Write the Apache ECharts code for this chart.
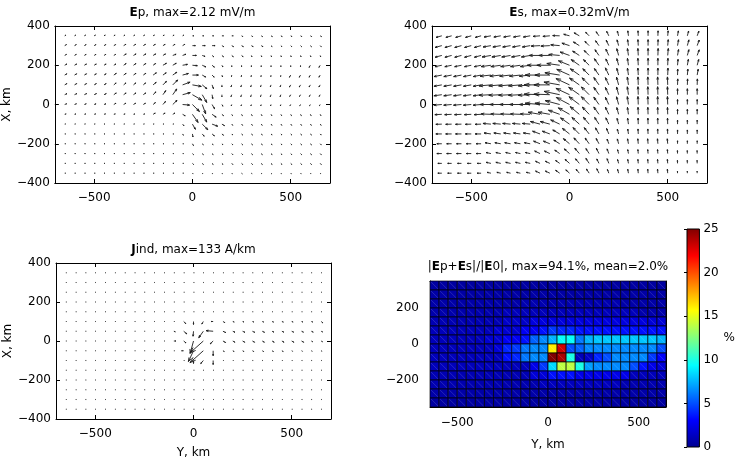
<!DOCTYPE html>
<html>
<head>
<meta charset="utf-8">
<title>Ep / Es / Jind</title>
<script src="https://cdn.jsdelivr.net/npm/echarts@6/dist/echarts.min.js"></script>
<style>
  html, body { margin: 0; padding: 0; background: #fff; }
  #chart { width: 737px; height: 460px; }
</style>
</head>
<body>
<div id="chart"></div>
<script>
// grid nodes (km): columns are Y, rows are X (top row first)
var gridY = [-650,-600,-550,-500,-450,-400,-350,-300,-250,-200,-150,-100,-50,0,50,100,150,200,250,300,350,400,450,500,550,600,650];
var gridX = [350,300,250,200,150,100,50,0,-50,-100,-150,-200,-250,-300,-350];

// Ep: magnitude (mV/m) and direction (deg, from +Y towards +X)
var epMag = [
  [0.29,0.29,0.29,0.29,0.29,0.29,0.29,0.29,0.29,0.29,0.29,0.29,0.29,0.29,0.29,0.29,0.29,0.29,0.29,0.29,0.29,0.29,0.29,0.29,0.29,0.29,0.29],
  [0.39,0.39,0.39,0.39,0.39,0.39,0.48,0.48,0.48,0.48,0.48,0.48,0.48,0.58,0.58,0.58,0.39,0.39,0.39,0.39,0.39,0.29,0.29,0.29,0.29,0.29,0.29],
  [0.39,0.39,0.39,0.39,0.39,0.39,0.58,0.58,0.58,0.58,0.58,0.68,0.68,0.77,0.58,0.39,0.39,0.39,0.39,0.29,0.29,0.29,0.29,0.29,0.29,0.29,0.29],
  [0.48,0.48,0.48,0.48,0.48,0.48,0.58,0.58,0.58,0.58,0.77,0.77,0.96,0.96,0.77,0.58,0.39,0.29,0.29,0.29,0.29,0.29,0.29,0.29,0.29,0.48,0.48],
  [0.48,0.48,0.48,0.48,0.48,0.58,0.58,0.58,0.58,0.77,0.77,0.96,1.16,1.16,0.77,0.58,0.39,0.29,0.29,0.29,0.29,0.29,0.29,0.48,0.48,0.48,0.48],
  [0.48,0.48,0.48,0.48,0.48,0.58,0.58,0.58,0.58,0.77,0.96,1.35,1.54,1.74,1.16,0.77,0.39,0.39,0.39,0.39,0.39,0.39,0.39,0.48,0.48,0.48,0.48],
  [0.48,0.48,0.48,0.48,0.48,0.58,0.58,0.58,0.58,0.77,0.96,1.35,1.54,2.12,1.74,0.77,0.39,0.39,0.39,0.39,0.39,0.39,0.39,0.39,0.39,0.39,0.39],
  [0.39,0.39,0.39,0.39,0.39,0.48,0.48,0.48,0.48,0.58,0.77,1.16,1.35,1.93,1.93,0.96,0.39,0.29,0.29,0.29,0.29,0.29,0.29,0.29,0.29,0.29,0.29],
  [0.29,0.29,0.29,0.29,0.29,0.29,0.29,0.29,0.29,0.48,0.48,0.48,0.58,1.93,1.74,0.96,0.39,0.29,0.29,0.29,0.29,0.29,0.29,0.29,0.29,0.29,0.29],
  [0.19,0.19,0.19,0.19,0.19,0.19,0.19,0.19,0.19,0.19,0.19,0.19,0.39,1.16,1.54,1.16,0.58,0.29,0.29,0.29,0.29,0.29,0.29,0.29,0.29,0.29,0.29],
  [0.19,0.19,0.19,0.19,0.19,0.19,0.19,0.19,0.19,0.19,0.19,0.19,0.29,0.58,0.58,0.58,0.39,0.29,0.29,0.29,0.29,0.29,0.29,0.29,0.29,0.29,0.29],
  [0.19,0.19,0.19,0.19,0.19,0.19,0.19,0.19,0.19,0.19,0.19,0.19,0.19,0.39,0.29,0.29,0.29,0.29,0.29,0.29,0.29,0.29,0.29,0.29,0.29,0.29,0.29],
  [0.19,0.19,0.19,0.19,0.19,0.19,0.19,0.19,0.19,0.19,0.19,0.19,0.19,0.29,0.29,0.29,0.29,0.29,0.29,0.29,0.29,0.29,0.29,0.29,0.29,0.29,0.29],
  [0.19,0.19,0.19,0.19,0.19,0.19,0.19,0.19,0.19,0.19,0.19,0.19,0.19,0.29,0.29,0.29,0.29,0.29,0.29,0.29,0.29,0.29,0.29,0.29,0.29,0.29,0.29],
  [0.19,0.19,0.19,0.19,0.19,0.19,0.19,0.19,0.19,0.19,0.19,0.19,0.19,0.19,0.19,0.19,0.19,0.19,0.19,0.19,0.19,0.19,0.19,0.19,0.19,0.19,0.19]
];
var epDir = [
  [30,30,30,30,30,30,30,30,30,30,30,30,30,0,0,0,0,0,-30,-30,-30,-30,-30,-30,-30,-30,-30],
  [30,30,30,30,30,30,30,30,30,30,30,30,30,0,0,0,-30,-30,-30,-30,-30,-45,-45,-45,-45,-45,-45],
  [30,30,30,30,30,30,30,30,30,30,30,20,20,0,-20,-40,-40,-40,-40,-70,-70,-70,-70,-70,-70,-70,-70],
  [30,30,30,30,30,30,35,35,35,35,30,30,10,-5,-25,-40,-60,-90,-90,-90,-90,-90,-90,-90,-90,240,240],
  [30,30,30,30,30,35,35,35,35,35,35,35,15,0,-30,-45,-70,260,260,260,260,260,260,240,240,240,240],
  [30,30,30,30,30,40,40,40,40,40,45,45,20,-10,-40,-70,-90,250,250,250,250,250,250,240,240,240,240],
  [25,25,25,25,25,35,35,35,35,45,55,55,15,-30,-60,-80,-90,250,250,250,250,250,250,240,240,240,240],
  [20,20,20,20,20,30,30,30,30,40,50,45,-5,-45,-70,-60,-60,250,250,250,250,250,250,240,240,240,240],
  [15,15,15,15,15,15,15,15,15,30,30,30,-30,-55,-60,-35,-40,-60,-60,-60,-60,-60,-60,-60,-60,-60,-60],
  [10,10,10,10,10,10,10,10,10,10,10,10,-50,-60,-45,-20,-30,-50,-50,-50,-50,-50,-50,-50,-50,-50,-50],
  [0,0,0,0,0,0,0,0,0,0,0,0,-60,-80,-50,-40,-40,-45,-45,-45,-45,-45,-45,-45,-45,-45,-45],
  [0,0,0,0,0,0,0,0,0,0,0,0,0,-60,-45,-45,-45,-45,-45,-45,-45,-45,-45,-45,-45,-45,-45],
  [0,0,0,0,0,0,0,0,0,0,0,0,0,-45,-45,-45,-45,-45,-45,-45,-45,-45,-45,-45,-45,-45,-45],
  [0,0,0,0,0,0,0,0,0,0,0,0,0,-45,-45,-45,-45,-45,-45,-45,-45,-45,-45,-45,-45,-45,-45],
  [0,0,0,0,0,0,0,0,0,0,0,0,0,-45,-45,-45,-45,-45,-45,-45,-45,-45,-45,-45,-45,-45,-45]
];

// Es: magnitude (mV/m) and direction (deg)
var esMag = [
  [0.12,0.12,0.12,0.12,0.12,0.14,0.14,0.14,0.14,0.14,0.14,0.14,0.14,0.12,0.12,0.10,0.10,0.10,0.10,0.10,0.10,0.10,0.10,0.10,0.10,0.10,0.10],
  [0.14,0.14,0.14,0.14,0.14,0.16,0.16,0.16,0.16,0.16,0.18,0.18,0.18,0.16,0.14,0.12,0.12,0.12,0.12,0.12,0.12,0.12,0.12,0.12,0.12,0.12,0.12],
  [0.14,0.14,0.14,0.14,0.14,0.18,0.18,0.18,0.18,0.18,0.22,0.22,0.22,0.20,0.16,0.14,0.14,0.14,0.14,0.14,0.14,0.14,0.14,0.14,0.12,0.12,0.12],
  [0.14,0.14,0.14,0.14,0.14,0.20,0.20,0.20,0.20,0.20,0.26,0.26,0.26,0.24,0.20,0.16,0.16,0.14,0.14,0.14,0.14,0.14,0.14,0.14,0.12,0.12,0.12],
  [0.16,0.16,0.16,0.16,0.16,0.22,0.22,0.22,0.22,0.22,0.30,0.30,0.30,0.28,0.22,0.18,0.16,0.16,0.14,0.14,0.14,0.14,0.14,0.14,0.12,0.12,0.12],
  [0.16,0.16,0.16,0.16,0.16,0.24,0.24,0.24,0.24,0.24,0.32,0.32,0.32,0.30,0.24,0.20,0.18,0.16,0.16,0.16,0.16,0.16,0.16,0.16,0.12,0.12,0.12],
  [0.16,0.16,0.16,0.16,0.16,0.24,0.24,0.24,0.24,0.24,0.32,0.32,0.32,0.30,0.26,0.22,0.18,0.16,0.16,0.16,0.16,0.16,0.16,0.16,0.12,0.12,0.12],
  [0.16,0.16,0.16,0.16,0.16,0.22,0.22,0.22,0.22,0.22,0.30,0.30,0.30,0.30,0.26,0.22,0.18,0.16,0.16,0.16,0.16,0.16,0.16,0.16,0.10,0.10,0.10],
  [0.14,0.14,0.14,0.14,0.14,0.20,0.20,0.20,0.20,0.20,0.24,0.24,0.24,0.26,0.24,0.20,0.18,0.16,0.14,0.14,0.14,0.14,0.14,0.14,0.10,0.10,0.10],
  [0.12,0.12,0.12,0.12,0.12,0.16,0.16,0.16,0.16,0.16,0.20,0.20,0.20,0.22,0.20,0.18,0.16,0.14,0.12,0.12,0.12,0.12,0.12,0.12,0.08,0.08,0.08],
  [0.12,0.12,0.12,0.12,0.12,0.14,0.14,0.14,0.14,0.14,0.16,0.16,0.16,0.18,0.18,0.16,0.14,0.12,0.10,0.10,0.10,0.10,0.10,0.10,0.08,0.08,0.08],
  [0.10,0.10,0.10,0.10,0.10,0.12,0.12,0.12,0.12,0.12,0.14,0.14,0.14,0.16,0.16,0.14,0.12,0.10,0.10,0.10,0.10,0.10,0.10,0.10,0.06,0.06,0.06],
  [0.10,0.10,0.10,0.10,0.10,0.10,0.10,0.10,0.10,0.10,0.12,0.12,0.12,0.14,0.14,0.12,0.12,0.10,0.08,0.08,0.08,0.08,0.08,0.08,0.06,0.06,0.06],
  [0.08,0.08,0.08,0.08,0.08,0.10,0.10,0.10,0.10,0.10,0.10,0.10,0.10,0.12,0.12,0.12,0.10,0.10,0.08,0.08,0.08,0.08,0.08,0.08,0.06,0.06,0.06],
  [0.08,0.08,0.08,0.08,0.08,0.08,0.08,0.08,0.08,0.08,0.10,0.10,0.10,0.10,0.10,0.10,0.10,0.08,0.08,0.08,0.08,0.08,0.08,0.08,0.04,0.04,0.04]
];
var esDir = [
  [195,195,195,195,195,190,190,190,190,190,185,185,178,165,150,135,125,115,105,97,93,90,88,85,80,75,70],
  [195,195,195,195,195,190,190,190,190,190,183,183,175,162,148,135,125,115,105,98,93,90,88,85,80,75,70],
  [195,195,195,195,195,190,190,190,190,190,180,180,175,160,147,135,125,115,105,98,93,90,88,85,80,75,70],
  [192,192,192,192,192,188,188,188,188,188,180,180,172,158,145,135,125,115,105,98,93,90,90,88,85,80,75],
  [191,191,191,191,191,186,186,186,186,186,180,180,171,156,145,135,125,115,105,98,93,90,90,88,88,85,80],
  [190,190,190,190,190,185,185,185,185,185,180,180,170,155,145,135,125,115,105,98,92,92,92,92,88,88,88],
  [188,188,188,188,188,183,183,183,183,183,178,178,168,155,145,135,125,115,105,98,92,92,92,92,90,90,90],
  [185,185,185,185,185,180,180,180,180,180,175,175,165,152,143,135,125,115,105,98,92,92,92,92,90,90,90],
  [183,183,183,183,183,178,178,178,178,178,170,170,160,150,140,133,125,115,105,98,92,92,92,92,90,90,90],
  [182,182,182,182,182,175,175,175,175,175,165,165,155,145,138,130,123,115,105,98,92,92,92,92,90,90,90],
  [180,180,180,180,180,172,172,172,172,172,160,160,150,142,135,128,120,112,105,98,93,93,93,93,90,90,90],
  [180,180,180,180,180,170,170,170,170,170,158,158,148,140,133,125,118,110,105,100,95,95,95,95,90,90,90],
  [180,180,180,180,180,168,168,168,168,168,155,155,145,138,130,123,116,110,105,100,95,95,95,95,92,92,92],
  [180,180,180,180,180,168,168,168,168,168,155,155,145,138,130,123,116,110,105,100,95,95,95,95,92,92,92],
  [180,180,180,180,180,168,168,168,168,168,155,155,145,138,130,123,116,110,105,100,95,95,95,95,92,92,92]
];

// Jind: magnitude (A/km) and direction (deg)
var jMag = [
  [5,5,5,5,5,5,5,5,5,5,5,5,5,5,5,5,5,5,5,5,5,5,5,5,5,5,5],
  [5,5,5,5,5,5,5,5,5,5,5,5,5,5,5,5,5,5,5,5,5,5,5,5,5,5,5],
  [5,5,5,5,5,5,5,5,5,5,5,5,5,5,5,5,5,5,5,5,5,5,5,5,5,5,5],
  [5,5,5,5,5,5,5,5,5,5,5,5,5,5,5,5,5,5,5,5,5,5,5,5,5,5,5],
  [5,5,5,5,5,5,5,5,5,5,5,5,5,5,5,5,5,5,5,5,5,5,5,5,5,5,5],
  [5,5,5,5,5,5,5,5,5,5,5,5,22,22,22,15,15,11,11,11,11,11,11,11,11,11,15],
  [5,5,5,5,5,5,5,5,5,5,5,11,30,37,59,52,22,18,18,18,18,15,15,15,15,15,11],
  [5,5,5,5,5,5,5,5,5,5,5,15,22,96,133,30,22,18,18,18,18,18,18,18,18,11,11],
  [5,5,5,5,5,5,5,5,5,5,5,5,15,89,133,37,11,11,11,11,11,11,11,7,7,7,7],
  [5,5,5,5,5,5,5,5,5,5,5,5,5,22,30,30,5,5,5,5,5,5,5,5,5,5,5],
  [5,5,5,5,5,5,5,5,5,5,5,5,5,5,5,5,5,5,5,5,5,5,5,5,5,5,5],
  [5,5,5,5,5,5,5,5,5,5,5,5,5,5,5,5,5,5,5,5,5,5,5,5,5,5,5],
  [5,5,5,5,5,5,5,5,5,5,5,5,5,5,5,5,5,5,5,5,5,5,5,5,5,5,5],
  [5,5,5,5,5,5,5,5,5,5,5,5,5,5,5,5,5,5,5,5,5,5,5,5,5,5,5],
  [5,5,5,5,5,5,5,5,5,5,5,5,5,5,5,5,5,5,5,5,5,5,5,5,5,5,5]
];
var jDir = [
  [0,0,0,0,0,0,0,0,0,0,0,0,0,0,0,0,0,0,0,0,0,0,0,0,0,0,0],
  [0,0,0,0,0,0,0,0,0,0,0,0,0,0,0,0,0,0,0,0,0,0,0,0,0,0,0],
  [0,0,0,0,0,0,0,0,0,0,0,0,0,0,0,0,0,0,0,0,0,0,0,0,0,0,0],
  [0,0,0,0,0,0,0,0,0,0,0,0,0,0,0,0,0,0,0,0,0,0,0,0,0,0,0],
  [0,0,0,0,0,0,0,0,0,0,0,0,0,0,0,0,0,0,0,0,0,0,0,0,0,0,0],
  [0,0,0,0,0,0,0,0,0,0,0,0,-45,-90,240,180,-30,-20,-20,-20,-20,-20,-20,-20,-20,-20,-40],
  [0,0,0,0,0,0,0,0,0,0,0,-20,-40,-95,235,175,-25,-25,-25,-25,-25,-25,-25,-25,-25,-25,-25],
  [0,0,0,0,0,0,0,0,0,0,0,0,-40,255,222,225,-30,-30,-30,-30,-30,-30,-30,-30,-30,-30,-30],
  [0,0,0,0,0,0,0,0,0,0,0,0,180,245,222,270,-30,-30,-30,-30,-30,-30,-30,-30,-30,-30,-30],
  [0,0,0,0,0,0,0,0,0,0,0,0,0,270,230,270,0,0,0,0,0,0,0,0,0,0,0],
  [0,0,0,0,0,0,0,0,0,0,0,0,0,0,0,0,0,0,0,0,0,0,0,0,0,0,0],
  [0,0,0,0,0,0,0,0,0,0,0,0,0,0,0,0,0,0,0,0,0,0,0,0,0,0,0],
  [0,0,0,0,0,0,0,0,0,0,0,0,0,0,0,0,0,0,0,0,0,0,0,0,0,0,0],
  [0,0,0,0,0,0,0,0,0,0,0,0,0,0,0,0,0,0,0,0,0,0,0,0,0,0,0],
  [0,0,0,0,0,0,0,0,0,0,0,0,0,0,0,0,0,0,0,0,0,0,0,0,0,0,0]
];

// |Ep+Es|/|E0| in %, cell centres
var cellY = [-625,-575,-525,-475,-425,-375,-325,-275,-225,-175,-125,-75,-25,25,75,125,175,225,275,325,375,425,475,525,575,625];
var cellX = [325,275,225,175,125,75,25,-25,-75,-125,-175,-225,-275,-325];
var ratio = [
  [0.5,0.5,0.5,0.5,0.5,0.5,0.5,0.5,0.5,0.5,0.5,0.5,0.5,0.5,0.5,0.5,0.5,0.5,0.5,0.5,0.5,0.5,0.5,0.5,0.5,0.5],
  [0.6,0.6,0.6,0.6,0.6,0.6,0.6,0.6,0.6,0.6,0.6,0.6,0.6,0.6,0.6,0.6,0.6,0.6,0.6,0.6,0.6,0.6,0.6,0.6,0.6,0.6],
  [0.7,0.7,0.7,0.7,0.7,0.7,0.7,0.7,0.7,0.7,0.9,0.9,0.9,0.9,0.9,0.9,0.9,0.9,0.9,0.9,0.9,0.7,0.7,0.7,0.7,0.7],
  [0.8,0.8,0.8,0.8,0.8,0.8,0.8,0.8,1.2,1.2,1.2,1.2,1.2,1.2,1.2,1.2,1.2,1.2,1.2,1.2,1.2,1.2,1.2,0.8,0.8,0.8],
  [1.0,1.0,1.0,1.0,1.0,1.0,1.0,1.0,1.6,1.6,1.6,2.2,2.2,2.2,2.2,2.2,2.2,2.2,2.2,2.2,2.2,2.2,2.2,2.2,2.0,2.0],
  [1.2,1.2,1.2,1.2,1.2,1.2,1.2,1.8,1.8,1.8,2.8,2.8,3.5,4.5,4.0,4.0,3.5,3.5,3.5,3.5,3.5,3.5,3.5,3.5,3.5,3.5],
  [1.2,1.2,1.2,1.2,1.2,1.2,1.8,1.8,2.8,2.8,3.5,5.5,6.5,7.5,9.5,9.5,6.0,7.5,8.0,8.0,8.0,8.0,8.0,8.0,8.0,7.5],
  [1.2,1.2,1.2,1.2,1.2,1.2,1.2,2.0,4.0,4.5,6.0,6.5,6.5,16,23,5.0,5.5,6.5,6.5,6.5,6.5,6.5,6.5,6.5,6.5,5.0],
  [1.2,1.2,1.2,1.2,1.2,1.2,1.2,1.2,3.5,4.0,6.0,6.5,6.5,25,24,10,1.2,1.5,4.0,5.0,6.5,6.5,6.5,6.5,4.5,3.0],
  [1.2,1.2,1.2,1.2,1.2,1.2,1.2,1.2,1.2,1.2,1.2,2.5,4.5,8.5,14,14,10,7.0,6.5,6.5,6.5,6.5,5.0,3.5,2.5,2.0],
  [1.0,1.0,1.0,1.0,1.0,1.0,1.0,1.0,1.0,1.0,1.0,2.0,2.0,3.5,3.5,3.5,2.5,2.5,2.5,2.5,2.5,2.5,1.2,1.2,1.2,1.2],
  [0.9,0.9,0.9,0.9,0.9,0.9,0.9,0.9,0.9,0.9,0.9,0.9,1.3,1.3,1.3,1.3,1.3,1.3,1.3,1.3,1.3,0.9,0.9,0.9,0.9,0.9],
  [0.7,0.7,0.7,0.7,0.7,0.7,0.7,0.7,0.7,0.7,0.7,0.7,0.7,0.7,0.7,0.7,0.7,0.7,0.7,0.7,0.7,0.7,0.7,0.7,0.7,0.7],
  [0.5,0.5,0.5,0.5,0.5,0.5,0.5,0.5,0.5,0.5,0.5,0.5,0.5,0.5,0.5,0.5,0.5,0.5,0.5,0.5,0.5,0.5,0.5,0.5,0.5,0.5]
];

var xTicks = [-500, 0, 500];
var heatYTicks = [-200, 0, 200];
var jet = ['#00008f','#0000ff','#0080ff','#00ffff','#80ff80','#ffff00','#ff8000','#ff0000','#800000'];

var FONT = 'DejaVu Sans';
var txt = {fontFamily: FONT, fontSize: 12, color: '#000'};
var rich = {b: {fontFamily: FONT, fontSize: 12, fontWeight: 'bold', color: '#000'}};

function minus(v) { return String(v).replace('-', '\u2212'); }

function field(mag, dir) {
  var out = [];
  for (var i = 0; i < gridX.length; i++) {
    for (var j = 0; j < gridY.length; j++) {
      out.push([gridY[j], gridX[i], mag[i][j], dir[i][j]]);
    }
  }
  return out;
}

// quiver arrow, matlab style head (alpha = beta = 0.33)
function arrow(kmPerUnit) {
  return function (params, api) {
    var m = api.value(2) * kmPerUnit;
    var a = api.value(3) * Math.PI / 180;
    var p0 = api.coord([api.value(0), api.value(1)]);
    var p1 = api.coord([api.value(0) + m * Math.cos(a), api.value(1) + m * Math.sin(a)]);
    var hx = p1[0] - p0[0], hy = p1[1] - p0[1];
    var al = 0.33, be = 0.33;
    var h1 = [p1[0] - al * (hx + be * hy), p1[1] - al * (hy - be * hx)];
    var h2 = [p1[0] - al * (hx - be * hy), p1[1] - al * (hy + be * hx)];
    var st = {stroke: '#1a1a1a', lineWidth: 0.9, fill: null};
    return {
      type: 'group',
      children: [
        {type: 'line', shape: {x1: p0[0], y1: p0[1], x2: p1[0], y2: p1[1]}, style: st},
        {type: 'polyline', shape: {points: [h1, p1, h2]}, style: st}
      ]
    };
  };
}

var heatData = [];
for (var r = 0; r < cellX.length; r++) {
  for (var c = 0; c < cellY.length; c++) {
    heatData.push([cellY[c], cellX[r], ratio[r][c]]);
  }
}

var axLine = {lineStyle: {color: '#000', width: 1}};

function quiverAxes(gi, title, xName, yName) {
  var xs = [
    {gridIndex: gi, type: 'value', min: -700, max: 700, position: 'bottom',
     axisLine: {onZero: false, lineStyle: axLine.lineStyle},
     axisTick: {inside: true, length: 4, customValues: xTicks, lineStyle: {color: '#000'}},
     axisLabel: Object.assign({customValues: xTicks, formatter: minus, margin: 9}, txt),
     splitLine: {show: false},
     name: xName || '', nameLocation: 'middle', nameGap: 28, nameTextStyle: txt},
    {gridIndex: gi, type: 'value', min: -700, max: 700, position: 'top',
     axisLine: {onZero: false, lineStyle: axLine.lineStyle},
     axisTick: {inside: true, length: 4, customValues: xTicks, lineStyle: {color: '#000'}},
     axisLabel: {show: false}, splitLine: {show: false},
     name: title, nameLocation: 'middle', nameGap: 7,
     nameTextStyle: Object.assign({rich: rich}, txt)}
  ];
  var ys = [
    {gridIndex: gi, type: 'value', min: -400, max: 400, interval: 200, position: 'left',
     axisLine: {onZero: false, lineStyle: axLine.lineStyle},
     axisTick: {inside: true, length: 4, lineStyle: {color: '#000'}},
     axisLabel: Object.assign({formatter: minus, margin: 5}, txt),
     splitLine: {show: false},
     name: yName || '', nameLocation: 'middle', nameGap: 39, nameTextStyle: txt},
    {gridIndex: gi, type: 'value', min: -400, max: 400, interval: 200, position: 'right',
     axisLine: {onZero: false, lineStyle: axLine.lineStyle},
     axisTick: {inside: true, length: 4, lineStyle: {color: '#000'}},
     axisLabel: {show: false}, splitLine: {show: false}}
  ];
  return {x: xs, y: ys};
}

var a0 = quiverAxes(0, '{b|E}p, max=2.12 mV/m', '', 'X, km');
var a1 = quiverAxes(1, '{b|E}s, max=0.32mV/m', '', '');
var a2 = quiverAxes(2, '{b|J}ind, max=133 A/km', 'Y, km', 'X, km');

var heatX = [
  {gridIndex: 3, type: 'value', min: -650, max: 650, position: 'bottom',
   axisLine: {onZero: false, lineStyle: axLine.lineStyle},
   axisTick: {show: false},
   axisLabel: Object.assign({customValues: xTicks, formatter: minus, margin: 10}, txt),
   splitLine: {show: false},
   name: 'Y, km', nameLocation: 'middle', nameGap: 32, nameTextStyle: txt},
  {gridIndex: 3, type: 'value', min: -650, max: 650, position: 'top',
   axisLine: {onZero: false, lineStyle: axLine.lineStyle},
   axisTick: {show: false}, axisLabel: {show: false}, splitLine: {show: false},
   name: '|{b|E}p+{b|E}s|/|{b|E}0|, max=94.1%, mean=2.0%', nameLocation: 'middle', nameGap: 8,
   nameTextStyle: Object.assign({rich: rich}, txt)}
];
var heatYAx = [
  {gridIndex: 3, type: 'value', min: -350, max: 350, position: 'left',
   axisLine: {onZero: false, lineStyle: axLine.lineStyle},
   axisTick: {show: false},
   axisLabel: Object.assign({customValues: heatYTicks, formatter: minus, margin: 11}, txt),
   splitLine: {show: false}},
  {gridIndex: 3, type: 'value', min: -350, max: 350, position: 'right',
   axisLine: {onZero: false, lineStyle: axLine.lineStyle},
   axisTick: {show: false}, axisLabel: {show: false}, splitLine: {show: false}}
];

var barX = {gridIndex: 4, type: 'value', min: 0, max: 1, show: false};
var barY = {gridIndex: 4, type: 'value', min: 0, max: 25, interval: 5, position: 'right',
  axisLine: {show: false},
  axisTick: {inside: true, length: 3, lineStyle: {color: '#000'}},
  axisLabel: Object.assign({margin: 4}, txt),
  splitLine: {show: false},
  name: '%', nameLocation: 'middle', nameRotate: 0, nameGap: 20, nameTextStyle: txt};

var chart = echarts.init(document.getElementById('chart'));
chart.setOption({
  animation: false,
  backgroundColor: '#fff',
  grid: [
    {left: 54, top: 26, width: 276, height: 157},
    {left: 432, top: 26, width: 275, height: 157},
    {left: 56, top: 263, width: 275, height: 159},
    {left: 430, top: 281, width: 236, height: 126},
    {left: 687, top: 229, width: 21, height: 218}
  ],
  xAxis: a0.x.concat(a1.x, a2.x, heatX, [barX]),
  yAxis: a0.y.concat(a1.y, a2.y, heatYAx, [barY]),
  visualMap: {
    type: 'continuous', show: false, seriesIndex: 3, dimension: 2,
    min: 0, max: 25, inRange: {color: jet}
  },
  series: [
    {type: 'custom', xAxisIndex: 0, yAxisIndex: 0, renderItem: arrow(26.3), data: field(epMag, epDir), silent: true},
    {type: 'custom', xAxisIndex: 2, yAxisIndex: 2, renderItem: arrow(254), data: field(esMag, esDir), silent: true},
    {type: 'custom', xAxisIndex: 4, yAxisIndex: 4, renderItem: arrow(0.687), data: field(jMag, jDir), silent: true},
    {type: 'custom', xAxisIndex: 6, yAxisIndex: 6, data: heatData, silent: true,
     encode: {x: 0, y: 1},
     renderItem: function (params, api) {
       var y = api.value(0), x = api.value(1);
       var p0 = api.coord([y - 25, x + 25]);
       var p1 = api.coord([y + 25, x - 25]);
       return {
         type: 'group',
         children: [
           {type: 'rect', shape: {x: p0[0], y: p0[1], width: p1[0] - p0[0], height: p1[1] - p0[1]},
            style: {fill: api.visual('color'), stroke: 'rgba(0,0,0,0.85)', lineWidth: 0.8}},
           {type: 'line', shape: {x1: p0[0] + 1, y1: p0[1] + 1, x2: p1[0] - 1, y2: p1[1] - 1},
            style: {stroke: 'rgba(255,255,255,0.18)', lineWidth: 0.8}}
         ]
       };
     }},
    {type: 'custom', xAxisIndex: 8, yAxisIndex: 8, data: [[0, 25]], silent: true,
     renderItem: function (params, api) {
       var lo = api.coord([0, api.value(0)]);
       var hi = api.coord([1, api.value(1)]);
       var stops = jet.map(function (col, k) { return {offset: k / (jet.length - 1), color: col}; });
       return {
         type: 'rect',
         shape: {x: lo[0], y: hi[1], width: hi[0] - lo[0], height: lo[1] - hi[1]},
         style: {fill: new echarts.graphic.LinearGradient(0, 1, 0, 0, stops), stroke: '#000', lineWidth: 1}
       };
     }}
  ]
});
</script>
</body>
</html>
